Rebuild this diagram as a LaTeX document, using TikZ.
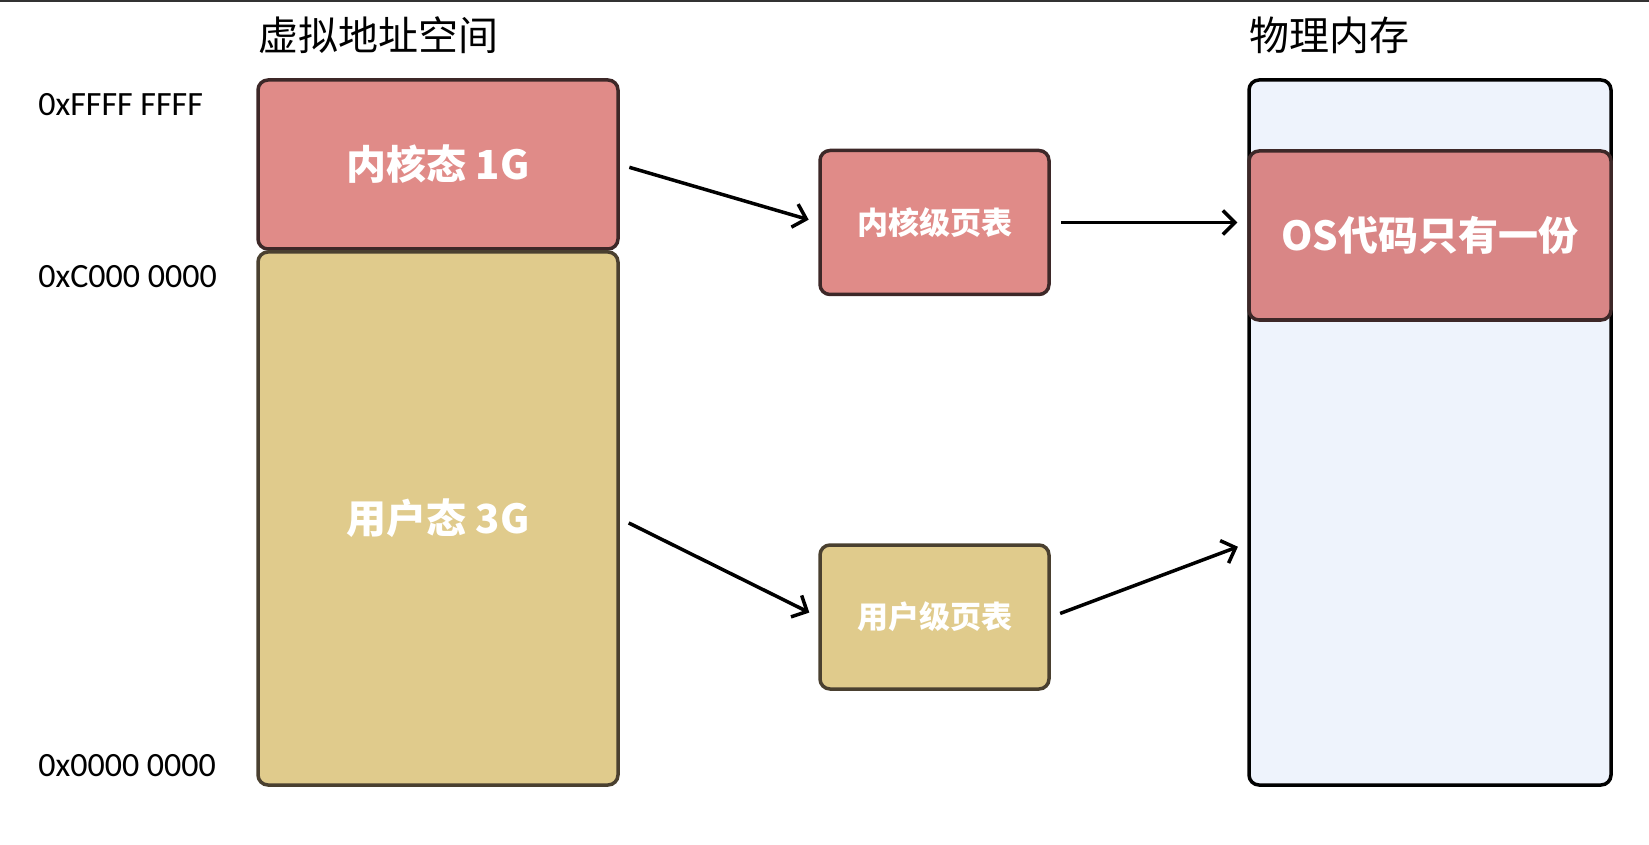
\documentclass[tikz,border=0pt]{standalone}
\usepackage{fontspec}
\setmainfont{Noto Sans CJK SC}
\newfontfamily\hexfont{Carlito}
\usetikzlibrary{positioning,arrows.meta}
\definecolor{kern}{HTML}{E08B88}
\definecolor{kernos}{HTML}{D98686}
\definecolor{usr}{HTML}{E0CB8C}
\definecolor{mem}{HTML}{EEF3FC}
\definecolor{kline}{HTML}{3D2828}
\definecolor{uline}{HTML}{4A4030}

\begin{document}
\begin{tikzpicture}[x=0.5pt,y=-0.5pt,
  blk/.style={draw,line width=1.75pt,rounded corners=5pt,inner sep=0pt,text=white,font=\bfseries\fontsize{20}{24}\selectfont},
  tbl/.style={blk,font=\bfseries\fontsize{15.5}{19}\selectfont,minimum width=114.5pt,minimum height=72pt},
  addr/.style={anchor=west,inner sep=0pt,font=\hexfont\fontsize{17}{21}\selectfont},
  ttl/.style={anchor=west,inner sep=0pt,font=\fontsize{20}{24}\selectfont},
  link/.style={-{Straight Barb[length=6pt,width=12pt]},line width=1.75pt,shorten <=5pt,shorten >=5pt}]
\useasboundingbox (0,0) rectangle (1649,845);
\draw[line width=1pt,black!80] (0,1) -- (1649,1);

% virtual address space
\node[ttl] (vtitle) at (258,35) {虚拟地址空间};
\node[blk,fill=kern,draw=kline,minimum width=180pt,minimum height=84.5pt] (kernel) at (438,164.5) {内核态 1G};
\node[blk,fill=usr,draw=uline,minimum width=180pt,minimum height=266.5pt] (user) at (438,518.5) {用户态 3G};
\node[addr] (top) at (38,105) {0xFFFF FFFF};
\node[addr] (mid) at (38,277) {0xC000 0000};
\node[addr] (low) at (38,766) {0x0000 0000};

% page tables
\node[tbl,fill=kern,draw=kline] (kpt) at (934.5,222.5) {内核级页表};
\node[tbl,fill=usr,draw=uline] (upt) at (934.5,617) {用户级页表};

% physical memory
\node[ttl] (ptitle) at (1249,35) {物理内存};
\node[blk,fill=mem,draw=black,minimum width=181pt,minimum height=352.5pt] (phys) at (1430,432.5) {};
\node[blk,fill=kernos,draw=kline,minimum width=181pt,minimum height=84.5pt] (os) at (1430,235.5) {OS代码只有一份};

\draw[link] (kernel.east) -- (kpt.west);
\draw[link] (kpt.east) -- (kpt.east -| os.west);
\draw[link] (user.east) -- (upt.west);
\draw[link] (upt.east) -- (phys.west |- upt.north);
\end{tikzpicture}
\end{document}
